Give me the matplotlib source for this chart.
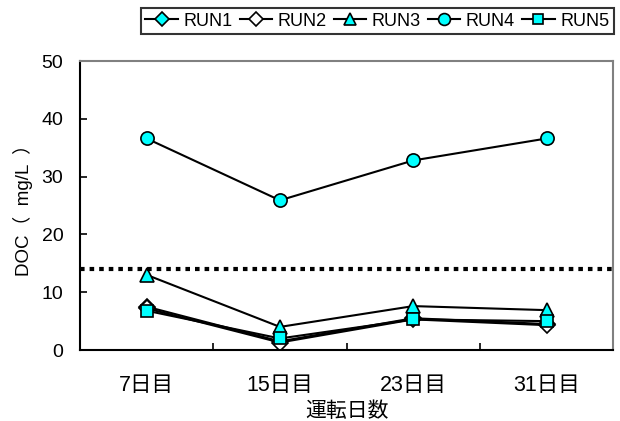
import matplotlib
matplotlib.use('Agg')
import matplotlib.pyplot as plt

plt.rcParams['font.family'] = ['Liberation Sans', 'Noto Sans CJK JP', 'DejaVu Sans']

#データ
days = ['7日目', '15日目', '23日目', '31日目']
run1 = [7.5, 1.5, 5.5, 4.5]
run2 = [7.2, 1.3, 5.3, 4.3]
run3 = [13.0, 4.0, 7.6, 6.9]
run4 = [36.6, 25.9, 32.8, 36.6]
run5 = [6.8, 2.0, 5.3, 5.0]
limit = 14

fig = plt.figure(figsize=(6.2, 4.21), dpi=100)
ax = fig.add_axes([0.129, 0.1686, 0.86, 0.6864])

x = range(len(days))
series = [
    ('RUN1', run1, 'D', '#00FFFF', 8),
    ('RUN2', run2, 'D', 'white', 8),
    ('RUN3', run3, '^', '#00FFFF', 10),
    ('RUN4', run4, 'o', '#00FFFF', 9.5),
    ('RUN5', run5, 's', '#00FFFF', 8.5),
]
for name, vals, mk, fc, ms in series:
    ax.plot(x, vals, color='black', lw=1.5, marker=mk, markerfacecolor=fc,
            markeredgecolor='black', markeredgewidth=1.2, markersize=ms, label=name)

#基準線
ax.axhline(limit, color='black', lw=3, dashes=(1.1, 1.2))

ax.set_xlim(-0.5, 3.5)
ax.set_ylim(0, 50)
ax.set_yticks([0, 10, 20, 30, 40, 50])
ax.set_xticks(list(x))
ax.set_xticklabels(days)
ax.set_xticks([0.5, 1.5, 2.5], minor=True)
ax.tick_params(axis='x', which='major', length=0, labelsize=15.5, pad=18)
ax.tick_params(axis='x', which='minor', direction='in', length=5, width=1.2)
ax.tick_params(axis='y', direction='in', length=5, width=1.2, labelsize=14, pad=12)

for s in ['left', 'bottom']:
    ax.spines[s].set_linewidth(1.5)
    ax.spines[s].set_color('black')
for s in ['top', 'right']:
    ax.spines[s].set_linewidth(1.5)
    ax.spines[s].set_color('#808080')

ax.set_ylabel('DOC（  mg/L  ）', fontsize=13.5, labelpad=6)
ax.set_xlabel('運転日数', fontsize=15, labelpad=4)

leg = fig.legend(loc='lower left', bbox_to_anchor=(0.227, 0.919, 0.763, 0.069), mode='expand',
                 ncol=5, fontsize=13, frameon=True, fancybox=False, edgecolor='black',
                 handlelength=1.8, handletextpad=0.3, columnspacing=0.5, borderpad=0.25,
                 markerscale=0.9, borderaxespad=0)
leg.get_frame().set_linewidth(1.5)

fig.savefig('out.png', dpi=100)
